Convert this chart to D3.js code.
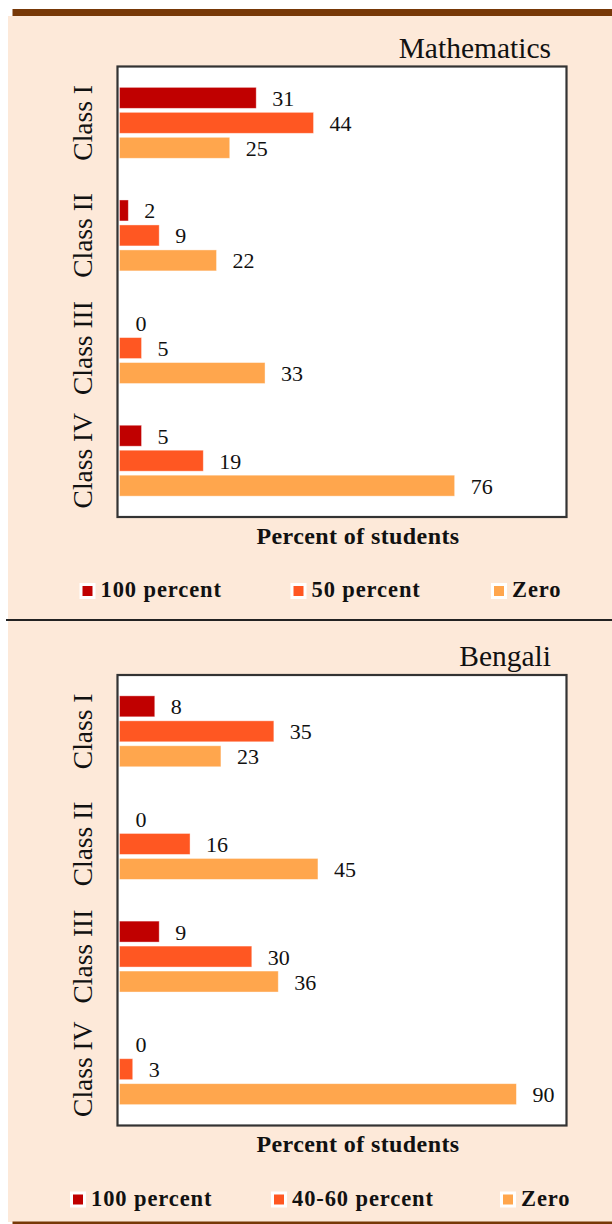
<!DOCTYPE html>
<html>
<head>
<meta charset="utf-8">
<script src="https://cdn.jsdelivr.net/npm/d3@7"></script>
<style>
  html, body { margin: 0; padding: 0; background: #ffffff; }
  svg { display: block; }
  text { font-family: "Liberation Serif", "Times New Roman", serif; fill: #111; }
</style>
</head>
<body>
<svg id="chart" width="612" height="1224"></svg>
<script>
// Grades of students by class, share of correct answers
const categories = ["Class I", "Class II", "Class III", "Class IV"];

const mathSeries = ["100 percent", "50 percent", "Zero"];
const mathFull = [31, 2, 0, 5];
const mathHalf = [44, 9, 5, 19];
const mathZero = [25, 22, 33, 76];

const bengaliSeries = ["100 percent", "40-60 percent", "Zero"];
const bengaliFull = [8, 0, 9, 0];
const bengaliMid = [35, 16, 30, 3];
const bengaliZero = [23, 45, 36, 90];

const seriesColors = ["#c00000", "#ff5722", "#ffa64d"];

const svg = d3.select("#chart");

// page frame: peach panel, brown rules, divider
svg.append("rect").attr("x", 8).attr("y", 16).attr("width", 604).attr("height", 1206)
  .attr("fill", "#fde9d9");
svg.append("rect").attr("x", 12.5).attr("y", 9).attr("width", 600).attr("height", 7)
  .attr("fill", "#773807");
svg.append("rect").attr("x", 12.5).attr("y", 1221.5).attr("width", 600).attr("height", 3)
  .attr("fill", "#773807");
svg.append("line").attr("x1", 6).attr("x2", 612).attr("y1", 620).attr("y2", 620)
  .attr("stroke", "#222").attr("stroke-width", 2);

function drawPanel(top, title, seriesNames, seriesValues, legendX) {
  const g = svg.append("g").attr("transform", `translate(0,${top})`);
  const box = { left: 117.5, right: 566.5, top: 66.5, bottom: 517 };

  const x = d3.scaleLinear().domain([0, 100]).range([box.left + 2, box.left + 2 + 441]);
  const y = d3.scaleBand().domain(categories).range([box.top, box.bottom]).paddingInner(0).paddingOuter(0);
  const yInner = d3.scaleBand().domain(seriesNames).range([0, y.bandwidth()])
    .paddingInner(0.16).paddingOuter(0.835);

  g.append("rect")
    .attr("x", box.left).attr("y", box.top)
    .attr("width", box.right - box.left).attr("height", box.bottom - box.top)
    .attr("fill", "#ffffff").attr("stroke", "#333333").attr("stroke-width", 2.2);

  g.append("text")
    .attr("x", 551).attr("y", 57.5)
    .attr("text-anchor", "end")
    .attr("font-size", 29.5)
    .text(title);

  const rows = [];
  seriesNames.forEach((s, si) => {
    categories.forEach((c, ci) => {
      rows.push({ cat: c, series: s, si, value: seriesValues[si][ci] });
    });
  });

  g.selectAll("rect.bar").data(rows.filter(d => d.value > 0)).join("rect")
    .attr("class", "bar")
    .attr("x", x(0))
    .attr("y", d => y(d.cat) + yInner(d.series))
    .attr("width", d => x(d.value) - x(0))
    .attr("height", yInner.bandwidth())
    .attr("fill", d => seriesColors[d.si])
    .attr("stroke", "#ffffff").attr("stroke-opacity", 0.5).attr("stroke-width", 0.8);

  g.selectAll("text.val").data(rows).join("text")
    .attr("class", "val")
    .attr("x", d => x(d.value) + 16)
    .attr("y", d => y(d.cat) + yInner(d.series) + yInner.bandwidth() / 2 + 8)
    .attr("font-size", 22)
    .text(d => d.value);

  g.selectAll("text.cat").data(categories).join("text")
    .attr("class", "cat")
    .attr("transform", d => `translate(92,${y(d) + y.bandwidth() / 2}) rotate(-90)`)
    .attr("text-anchor", "middle")
    .attr("font-size", 27.5)
    .text(d => d);

  g.append("text")
    .attr("x", 358).attr("y", 543.5)
    .attr("text-anchor", "middle")
    .attr("font-size", 24).attr("font-weight", 700)
    .attr("letter-spacing", 0.4)
    .text("Percent of students");

  const leg = g.selectAll("g.leg").data(seriesNames).join("g")
    .attr("class", "leg")
    .attr("transform", (d, i) => `translate(${legendX[i]},583)`);
  leg.append("rect").attr("width", 16).attr("height", 16).attr("fill", "#ffffff");
  leg.append("rect").attr("x", 3).attr("y", 3).attr("width", 10).attr("height", 10)
    .attr("fill", (d, i) => seriesColors[i]);
  leg.append("text")
    .attr("x", 21).attr("y", 14)
    .attr("font-size", 22.5).attr("font-weight", 700)
    .attr("letter-spacing", 0.9)
    .text(d => d);
}

drawPanel(0, "Mathematics", mathSeries, [mathFull, mathHalf, mathZero], [79.5, 290.5, 491]);
drawPanel(608.5, "Bengali", bengaliSeries, [bengaliFull, bengaliMid, bengaliZero], [70, 271, 500]);
</script>
</body>
</html>
